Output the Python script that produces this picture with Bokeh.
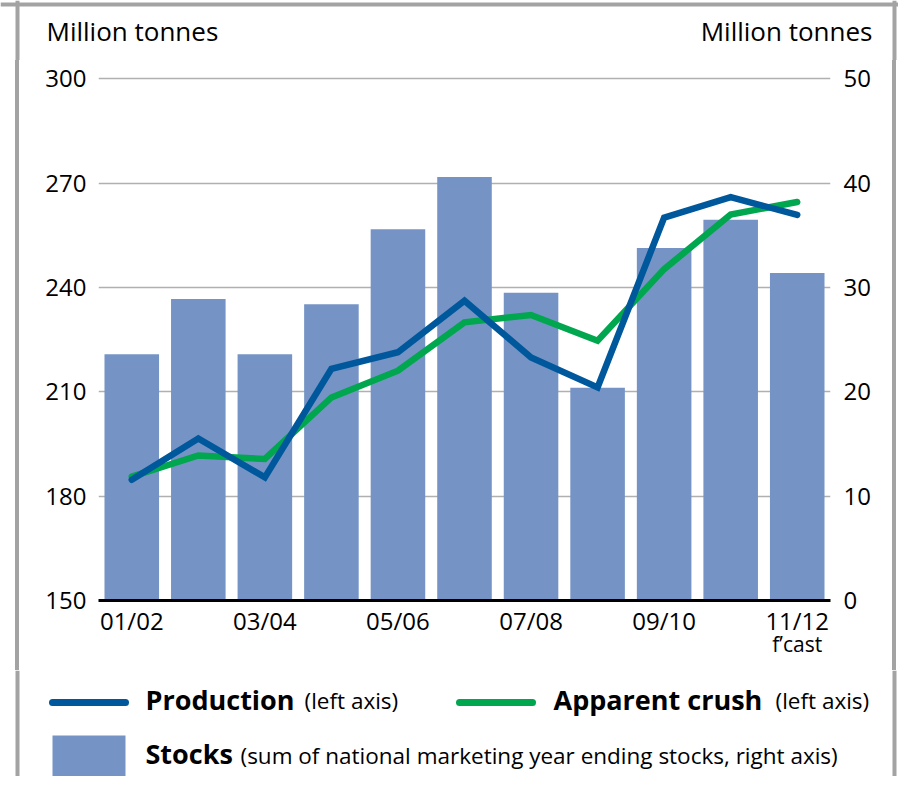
from bokeh.plotting import figure
from bokeh.models import Range1d, LinearAxis, FixedTicker, Label, Span, Div
from bokeh.layouts import column, row
from bokeh.embed import file_html
from bokeh.resources import INLINE

# ---------------- data ----------------
seasons = ["01/02", "02/03", "03/04", "04/05", "05/06", "06/07",
           "07/08", "08/09", "09/10", "10/11", "11/12"]
tick_labels = {0: "01/02", 2: "03/04", 4: "05/06", 6: "07/08", 8: "09/10", 10: "11/12"}
forecast_label = {10: "f\u2019cast"}
stocks = [23.6, 28.9, 23.6, 28.4, 35.6, 40.6, 29.5, 20.4, 33.8, 36.5, 31.4]       # right axis
production = [184.7, 196.6, 185.4, 216.6, 221.4, 236.2, 219.9, 211.3, 260.1, 266.0, 260.9]  # left axis
crush = [185.6, 191.7, 190.7, 208.4, 216.1, 230.0, 232.1, 224.7, 245.3, 261.0, 264.6]       # left axis
left_ticks = [150, 180, 210, 240, 270, 300]
right_ticks = [0, 10, 20, 30, 40, 50]

FONT = "Open Sans"
BLUE = "#00589c"
GREEN = "#00a74f"
BAR = "#7594c5"
FRAME = "#a3a3a3"

W = 898
HEAD_H, MAIN_H, LEG_H = 60, 610, 106
LEFT_W, RIGHT_W = 20, 8
MAIN_W = W - LEFT_W - RIGHT_W
ML, MR, MT, MB = 78, 60, 8, 70

x = list(range(len(seasons)))


def blank(w, h):
    f = figure(width=w, height=h, output_backend="svg", toolbar_location=None, title=None,
               x_range=Range1d(0, w), y_range=Range1d(h, 0),
               x_axis_type=None, y_axis_type=None,
               min_border=0, min_border_left=0, min_border_right=0,
               min_border_top=0, min_border_bottom=0)
    f.grid.visible = False
    f.outline_line_color = None
    f.background_fill_color = "white"
    f.border_fill_color = "white"
    return f


def vline(f, xpos):
    f.add_layout(Span(location=xpos, dimension="height", line_color=FRAME, line_width=4))


def strip(w, xpos):
    grad = (f"linear-gradient(to right, white {xpos - 2}px, {FRAME} {xpos - 2}px, "
            f"{FRAME} {xpos + 2}px, white {xpos + 2}px)")
    return Div(text="", width=w, height=MAIN_H, margin=0, styles={"background": grad})


# ---------------- header ----------------
head = blank(W, HEAD_H)
head.add_layout(Span(location=4, dimension="width", line_color=FRAME, line_width=4))
vline(head, 17)
vline(head, W - 4)
head.add_layout(Label(x=46, y=30, text="Million tonnes", text_font=FONT, text_font_size="26px",
                      text_baseline="middle", text_align="left", text_color="black"))
head.add_layout(Label(x=872, y=30, text="Million tonnes", text_font=FONT, text_font_size="26px",
                      text_baseline="middle", text_align="right", text_color="black"))

# ---------------- main chart ----------------
ytop = 303
p = figure(width=MAIN_W, height=MAIN_H, output_backend="svg", toolbar_location=None,
           x_range=Range1d(-0.5, len(seasons) - 0.5),
           y_range=Range1d(left_ticks[0], ytop),
           min_border_left=ML, min_border_right=MR, min_border_top=MT, min_border_bottom=MB)
p.outline_line_color = None
p.background_fill_color = "white"
p.border_fill_color = "white"
p.extra_y_ranges = {"stocks": Range1d(0, (ytop - left_ticks[0]) / 3.0)}

p.vbar(x=x, top=stocks, bottom=0, width=0.82, y_range_name="stocks",
       fill_color=BAR, line_color=None)
p.line(x, crush, line_width=6.5, color=GREEN, line_cap="round", line_join="miter")
p.line(x, production, line_width=6.5, color=BLUE, line_cap="round", line_join="miter")

for ax in [p.xaxis[0], p.yaxis[0]]:
    ax.major_tick_line_color = None
    ax.minor_tick_line_color = None
    ax.major_tick_out = 0
    ax.major_tick_in = 0
    ax.major_label_text_font = FONT
    ax.major_label_text_font_size = "24px"
    ax.major_label_text_color = "black"

p.xaxis.ticker = FixedTicker(ticks=list(tick_labels.keys()))
p.xaxis.major_label_overrides = tick_labels
p.xaxis.axis_line_color = "black"
p.xaxis.axis_line_width = 3
p.xaxis.major_label_standoff = 3

fa = LinearAxis(ticker=FixedTicker(ticks=list(forecast_label.keys())))
fa.major_label_overrides = forecast_label
fa.axis_line_color = None
fa.major_tick_line_color = None
fa.minor_tick_line_color = None
fa.major_tick_out = 0
fa.major_tick_in = 0
fa.major_label_standoff = -10
fa.major_label_text_font = FONT
fa.major_label_text_font_size = "21px"
fa.major_label_text_color = "black"
p.add_layout(fa, "below")

p.yaxis.ticker = FixedTicker(ticks=left_ticks)
p.yaxis.axis_line_color = None
p.yaxis.major_label_standoff = 12

ra = LinearAxis(y_range_name="stocks", ticker=FixedTicker(ticks=right_ticks))
ra.axis_line_color = None
ra.major_tick_line_color = None
ra.minor_tick_line_color = None
ra.major_tick_out = 0
ra.major_tick_in = 0
ra.major_label_standoff = 13
ra.major_label_text_font = FONT
ra.major_label_text_font_size = "24px"
ra.major_label_text_color = "black"
p.add_layout(ra, "right")

p.xgrid.grid_line_color = None
p.ygrid.ticker = FixedTicker(ticks=left_ticks)
p.ygrid.grid_line_color = "#b0b0b0"
p.ygrid.grid_line_width = 1.5

left_strip = strip(LEFT_W, 17)
right_strip = strip(RIGHT_W, 4)

# ---------------- legend ----------------
leg = blank(W, LEG_H)
vline(leg, 17)
vline(leg, W - 4)
leg.line([52, 125], [32, 32], line_width=7, color=BLUE, line_cap="round")
leg.line([459, 532], [32, 32], line_width=7, color=GREEN, line_cap="round")
leg.quad(left=[52], right=[125], top=[65], bottom=[106], fill_color=BAR, line_color=None)


def legend_text(px, py, txt, bold, size):
    leg.add_layout(Label(x=px, y=py, text=txt, text_font=FONT, text_font_size=size,
                         text_font_style="bold" if bold else "normal",
                         text_baseline="middle", text_align="left", text_color="black"))


legend_text(145, 28.5, "Production", True, "27px")
legend_text(304, 30, "(left axis)", False, "22.5px")
legend_text(553, 28.5, "Apparent crush", True, "27px")
legend_text(775, 30, "(left axis)", False, "22.5px")
legend_text(145, 83, "Stocks", True, "27px")
legend_text(240, 84.5, "(sum of national marketing year ending stocks, right axis)", False, "22.5px")

layout = column(head, row(left_strip, p, right_strip, spacing=0), leg, spacing=0)

open("out.html", "w").write(file_html(layout, INLINE))
